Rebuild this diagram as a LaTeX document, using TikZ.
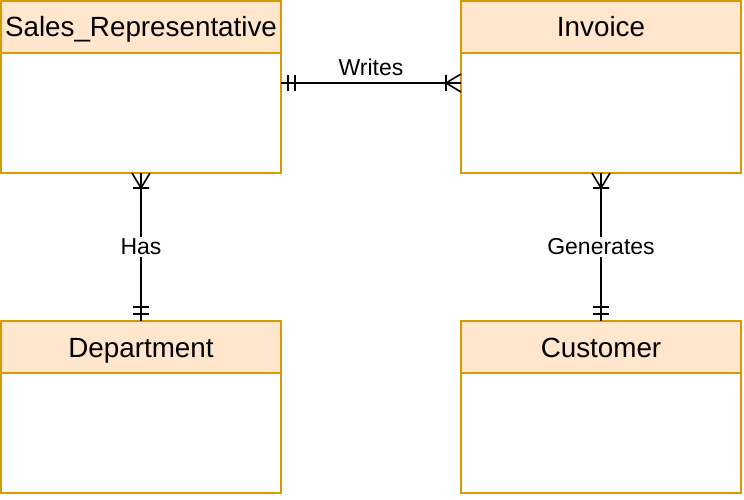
\documentclass[tikz,border=0pt]{standalone}
\usepackage{fontspec}
\setmainfont{Liberation Sans}
\usetikzlibrary{positioning, arrows.meta}
\definecolor{HeaderFill}{RGB}{255,230,204}
\definecolor{EntityBorder}{RGB}{215,155,0}

% crow's foot ends: one-or-many and one-and-only-one
\pgfdeclarearrow{
  name = ERmany,
  setup code = {
    \pgfarrowssettipend{0pt}
    \pgfarrowssetlineend{0pt}
    \pgfarrowssetbackend{-16pt}
    \pgfarrowssetvisualbackend{-16pt}
    \pgfarrowshullpoint{0pt}{9pt}
    \pgfarrowshullpoint{0pt}{-9pt}
    \pgfarrowshullpoint{-16pt}{0pt}
  },
  drawing code = {
    \pgfpathmoveto{\pgfpoint{0pt}{9pt}}
    \pgfpathlineto{\pgfpoint{-15pt}{0pt}}
    \pgfpathlineto{\pgfpoint{0pt}{-9pt}}
    \pgfpathmoveto{\pgfpoint{-15pt}{8pt}}
    \pgfpathlineto{\pgfpoint{-15pt}{-8pt}}
    \pgfusepathqstroke
  }
}
\pgfdeclarearrow{
  name = ERone,
  setup code = {
    \pgfarrowssettipend{0pt}
    \pgfarrowssetlineend{0pt}
    \pgfarrowssetbackend{-16pt}
    \pgfarrowssetvisualbackend{-16pt}
    \pgfarrowshullpoint{-7pt}{8pt}
    \pgfarrowshullpoint{-14pt}{-8pt}
  },
  drawing code = {
    \pgfpathmoveto{\pgfpoint{-7pt}{8pt}}
    \pgfpathlineto{\pgfpoint{-7pt}{-8pt}}
    \pgfpathmoveto{\pgfpoint{-14pt}{8pt}}
    \pgfpathlineto{\pgfpoint{-14pt}{-8pt}}
    \pgfusepathqstroke
  }
}

\begin{document}
\begin{tikzpicture}[x=1pt, y=-1pt,
    entity/.style={draw=EntityBorder, line width=1.6pt, fill=white, minimum width=280pt, minimum height=172pt, inner sep=0pt, outer sep=0pt},
    header/.style={draw=EntityBorder, line width=1.6pt, fill=HeaderFill, minimum width=280pt, minimum height=52pt, inner sep=0pt, outer sep=0pt, text height=20pt, text depth=0pt, font=\fontsize{27.8}{30}\selectfont},
    rel/.style={line width=1.6pt},
    lbl/.style={fill=white, inner sep=2pt, font=\fontsize{23}{26}\selectfont}]
  \useasboundingbox (0,0) rectangle (744,500);

  \node[entity] (salesrep) at (141,87) {};
  \node[entity, right=180pt of salesrep] (invoice) {};
  \node[entity, below=148pt of salesrep] (department) {};
  \node[entity, below=148pt of invoice] (customer) {};

  \node[header, anchor=north] (salesrephead) at (salesrep.north) {Sales\_Representative};
  \node[header, anchor=north] (invoicehead) at (invoice.north) {Invoice};
  \node[header, anchor=north] (departmenthead) at (department.north) {Department};
  \node[header, anchor=north] (customerhead) at (customer.north) {Customer};

  \draw[rel, ERone-ERmany] ([yshift=4pt]salesrep.east) -- ([yshift=4pt]invoice.west)
    node[midway, above=6pt, lbl, fill=none, inner sep=0pt] (writes) {Writes};
  \draw[rel, ERmany-ERone] (salesrep) -- (department) node[midway, lbl] (has) {Has};
  \draw[rel, ERmany-ERone] (invoice) -- (customer) node[midway, lbl] (generates) {Generates};
\end{tikzpicture}
\end{document}
